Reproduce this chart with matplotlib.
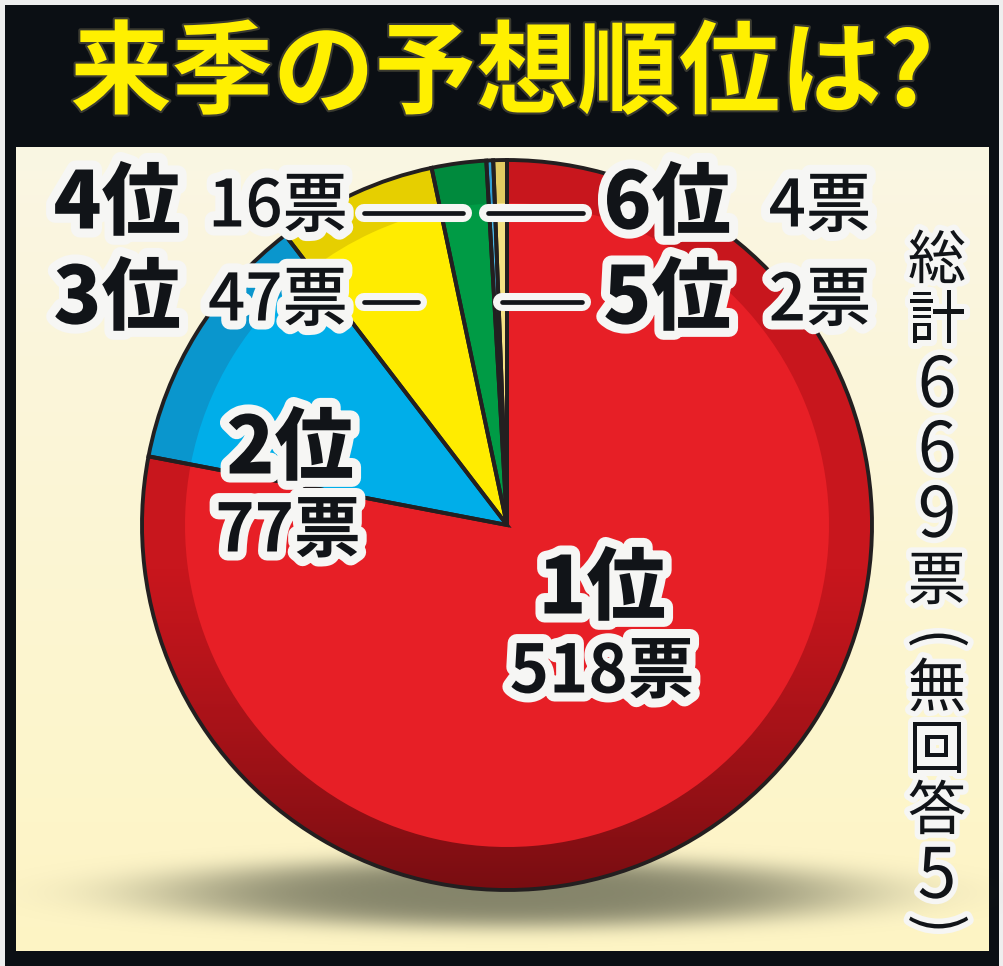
import numpy as np
import matplotlib.pyplot as plt
import matplotlib.patheffects as pe
from matplotlib.patches import Rectangle

plt.rcParams['font.family'] = ['Noto Sans CJK JP', 'DejaVu Sans']

# データ（上から反時計回り）
ranks = ['6位', '5位', '4位', '3位', '2位', '1位']
votes = [4, 2, 16, 47, 77, 518]
no_answer = 5
total = sum(votes) + no_answer
title = '来季の予想順位は?'

rim_colors = ['#e2cb62', '#2f9fd4', '#008a3d', '#e6cf00', '#0a96cd', '#c8161d']
face_colors = ['#f4e184', '#4ab8e8', '#009b45', '#ffec00', '#00aee9', '#e71f26']

W, H = 1004, 966
fig = plt.figure(figsize=(W / 100, H / 100), dpi=100)
fig.patch.set_facecolor('#eeeeee')
ax = fig.add_axes([0, 0, 1, 1])

# 枠
ax.add_patch(Rectangle((5, 0), W - 10, H - 5, facecolor='#0b0f14', edgecolor='none', zorder=0))
g = np.linspace(0, 1, 100)[:, None]
cream = np.array([0.98, 0.965, 0.89]) * (1 - g[..., None]) + np.array([0.995, 0.96, 0.77]) * g[..., None]
cream = np.repeat(cream, 2, axis=1)
ax.imshow(cream, extent=[16, 989, H - 951, H - 147], origin='upper', aspect='auto', zorder=0.5)

# 影
cx, cy, R = 507, H - 525, 365
sx = np.linspace(-500, 500, 400)
sy = np.linspace(-80, 80, 100)
X, Y = np.meshgrid(sx, sy)
r2 = (X / 350) ** 2 + (Y / 36) ** 2
shadow = np.zeros(X.shape + (4,))
shadow[..., :3] = [0.5, 0.5, 0.4]
shadow[..., 3] = 0.95 * np.exp(-r2 ** 2)
ax.imshow(shadow, extent=[cx - 500, cx + 500, H - 893 - 80, H - 893 + 80], origin='upper',
          aspect='auto', interpolation='bilinear', zorder=1)

# 円グラフ（外周の濃い色）
outer, _ = ax.pie(votes, colors=rim_colors, startangle=90, counterclock=True,
                  center=(cx, cy), radius=R, wedgeprops=dict(edgecolor='none'))
for w in outer:
    w.set_zorder(2)

# 下側を暗くする
yy = np.linspace(0, 1, 200)
img_y = (H - (cy + R)) + yy * 2 * R
shade = np.zeros((200, 2, 4))
shade[..., 3] = (0.4 * np.clip((img_y - 560) / 330, 0, 1) ** 1.3)[:, None]
im = ax.imshow(shade, extent=[cx - R, cx + R, cy - R, cy + R], origin='upper',
               aspect='auto', interpolation='bilinear', zorder=3)
im.set_clip_path(outer[-1])

# 内側の明るい色
inner, _ = ax.pie(votes, colors=face_colors, startangle=90, counterclock=True,
                  center=(cx, cy), radius=322, wedgeprops=dict(edgecolor='none'))
for w in inner:
    w.set_zorder(4)

# 輪郭線
lines, _ = ax.pie(votes, colors=['none'] * len(votes), startangle=90, counterclock=True,
                  center=(cx, cy), radius=R,
                  wedgeprops=dict(edgecolor='#231f20', linewidth=2.8, fill=False))
for w in lines:
    w.set_zorder(5)

# 引き出し線
halo = [pe.withStroke(linewidth=13, foreground='#f6f6f4')]
for x0, x1, y in [(364, 463, 213), (488, 583, 213), (364, 418, 302), (502, 582, 302)]:
    ax.plot([x0, x1], [H - y, H - y], color='#f6f6f4', lw=13, solid_capstyle='round', zorder=8)
    ax.plot([x0, x1], [H - y, H - y], color='#111418', lw=3.4, solid_capstyle='round', zorder=9)


def label(x, y, s, size, weight):
    ax.text(x, H - y, s, fontsize=size, fontweight=weight, color='#111418',
            ha='center', va='center', path_effects=halo, zorder=10)


# 順位ラベル
pos_rank = {'4位': (117, 205), '3位': (117, 300), '6位': (667, 205), '5位': (667, 300),
            '2位': (290, 450), '1位': (602, 590)}
pos_vote = {'4位': (278, 208), '3位': (278, 302), '6位': (820, 208), '5位': (820, 302),
            '2位': (288, 532), '1位': (602, 673)}
for rk, v in zip(ranks, votes):
    label(*pos_rank[rk], rk, 57, 'heavy')
    big = rk in ('1位', '2位')
    label(*pos_vote[rk], f'{v}票', 48 if big else 47, 'bold' if big else 'medium')

# タイトル
ax.text(502, H - 76, title, fontsize=73, fontweight='bold', color='#fff000',
        ha='center', va='center', zorder=10,
        path_effects=[pe.withStroke(linewidth=3, foreground='#3a3a30')])

# 縦書きの総計
vtext = f'総計{total}票(無回答{no_answer})'
vy = [262, 322, 387, 452, 517, 583, 638, 690, 752, 813, 878, 924]
vhalo = [pe.withStroke(linewidth=8, foreground='#f6f6f4')]
for ch, y in zip(vtext, vy):
    if ch in '()':
        kw = dict(fontsize=42, rotation=-90)
    elif ch.isdigit():
        kw = dict(fontsize=50, rotation=0)
    else:
        kw = dict(fontsize=42, rotation=0)
    ax.text(937, H - y, ch, color='#111418', ha='center', va='center',
            path_effects=vhalo, zorder=10, **kw)

ax.set_xlim(0, W)
ax.set_ylim(0, H)
ax.set_aspect('auto')
ax.axis('off')
fig.savefig('out.png', dpi=100, facecolor=fig.get_facecolor())
